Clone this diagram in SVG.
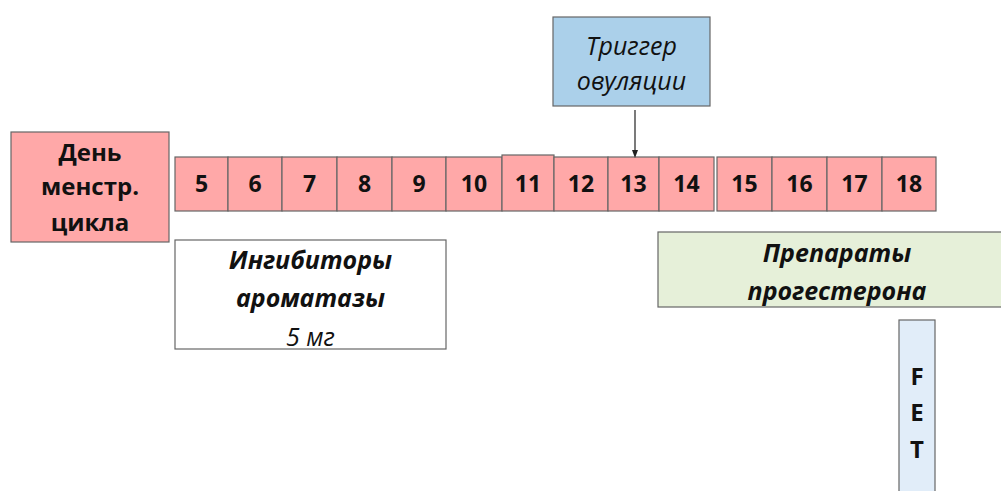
<svg xmlns="http://www.w3.org/2000/svg" width="1001" height="491" viewBox="0 0 1001 491">
<style>
.day{fill:#ffa8a8;stroke:#666;stroke-width:1.2}
.dt{font-family:"Open Sans","Liberation Sans",sans-serif;font-weight:bold;font-size:23px;fill:#111;text-anchor:middle}
.bt{font-family:"Open Sans","Liberation Sans",sans-serif;font-weight:bold;font-size:24px;fill:#111;text-anchor:middle}
.it{font-family:"Open Sans","Liberation Sans",sans-serif;font-style:italic;font-size:25px;fill:#111;text-anchor:middle}
.bit{font-family:"Open Sans","Liberation Sans",sans-serif;font-style:italic;font-weight:bold;font-size:25px;fill:#111;text-anchor:middle}
</style>
<defs>
<marker id="ah" markerWidth="8" markerHeight="8" refX="4" refY="4" orient="auto" markerUnits="userSpaceOnUse">
<path d="M0,1 L8,4 L0,7 Z" fill="#222"/>
</marker>
</defs>
<rect width="1001" height="491" fill="#fff"/>
<g id="label-day">
<rect x="11" y="132" width="158" height="110" fill="#ffa8a8" stroke="#666" stroke-width="1.2"/>
<text class="bt" x="90" y="161">День</text>
<text class="bt" x="90" y="195">менстр.</text>
<text class="bt" x="90" y="231">цикла</text>
</g>
<g id="day5"><rect class="day" x="175" y="157" width="53" height="54"/><text class="dt" x="201.5" y="192">5</text></g>
<g id="day6"><rect class="day" x="228" y="157" width="54" height="54"/><text class="dt" x="255" y="192">6</text></g>
<g id="day7"><rect class="day" x="282" y="157" width="55" height="54"/><text class="dt" x="309.5" y="192">7</text></g>
<g id="day8"><rect class="day" x="337" y="157" width="55" height="54"/><text class="dt" x="364.5" y="192">8</text></g>
<g id="day9"><rect class="day" x="392" y="157" width="54" height="54"/><text class="dt" x="419" y="192">9</text></g>
<g id="day10"><rect class="day" x="446" y="157" width="56" height="54"/><text class="dt" x="474" y="192">10</text></g>
<g id="day11"><rect class="day" x="502" y="155" width="52" height="56"/><text class="dt" x="528" y="192">11</text></g>
<g id="day12"><rect class="day" x="554" y="157" width="54" height="54"/><text class="dt" x="581" y="192">12</text></g>
<g id="day13"><rect class="day" x="608" y="157" width="51" height="54"/><text class="dt" x="633.5" y="192">13</text></g>
<g id="day14"><rect class="day" x="659" y="157" width="55" height="54"/><text class="dt" x="686.5" y="192">14</text></g>
<g id="day15"><rect class="day" x="717" y="157" width="55" height="54"/><text class="dt" x="744.5" y="192">15</text></g>
<g id="day16"><rect class="day" x="772" y="157" width="55" height="54"/><text class="dt" x="799.5" y="192">16</text></g>
<g id="day17"><rect class="day" x="827" y="157" width="55" height="54"/><text class="dt" x="854.5" y="192">17</text></g>
<g id="day18"><rect class="day" x="882" y="157" width="54" height="54"/><text class="dt" x="909" y="192">18</text></g>
<g id="trigger">
<rect x="553" y="17" width="157" height="89" fill="#abd0ea" stroke="#666" stroke-width="1.2"/>
<text class="it" x="631.5" y="55">Триггер</text>
<text class="it" x="631.5" y="90">овуляции</text>
</g>
<g id="aromatase">
<rect x="175" y="240" width="271" height="109" fill="#fff" stroke="#666" stroke-width="1.2"/>
<text class="bit" x="310.5" y="269">Ингибиторы</text>
<text class="bit" x="310.5" y="307">ароматазы</text>
<text class="it" x="310.5" y="346">5 мг</text>
</g>
<g id="progesterone">
<rect x="658" y="232" width="358" height="75" fill="#e6f0d9" stroke="#666" stroke-width="1.2"/>
<text class="bit" x="837" y="262">Препараты</text>
<text class="bit" x="837" y="300">прогестерона</text>
</g>
<g id="fet">
<rect x="899" y="320" width="36" height="175" fill="#e1edf9" stroke="#666" stroke-width="1.2"/>
<text class="bt" x="917" y="385">F</text>
<text class="bt" x="917" y="421">E</text>
<text class="bt" x="917" y="458">T</text>
</g>
<g id="connectors">
<line x1="635" y1="110" x2="635" y2="154" stroke="#222" stroke-width="1.2" marker-end="url(#ah)"/>
</g>
</svg>
